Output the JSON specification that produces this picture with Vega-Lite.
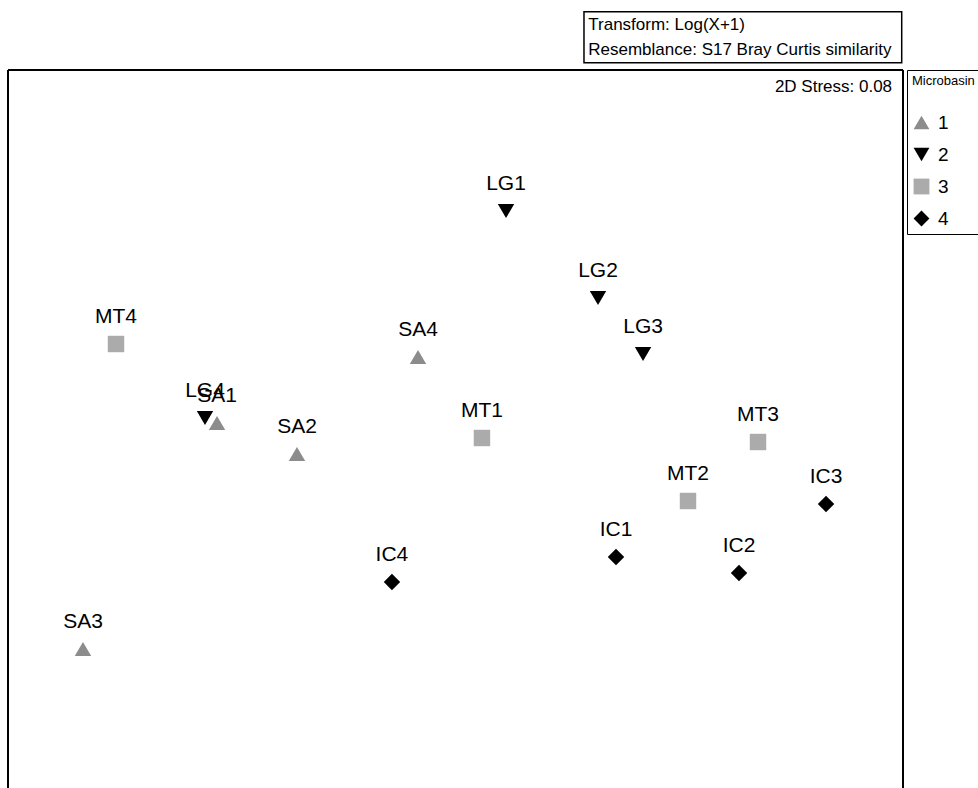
{
  "$schema": "https://vega.github.io/schema/vega-lite/v6.json",
  "width": 895,
  "height": 718,
  "autosize": "none",
  "padding": {"left": 8, "top": 70, "right": 75, "bottom": 0},
  "background": "white",
  "config": {"view": {"stroke": null}, "font": "Liberation Sans"},
  "data": {"values": [
    {"site": "LG1", "Microbasin": "2", "x": 0.508, "y": 2.29},
    {"site": "LG2", "Microbasin": "2", "x": 1.433, "y": 1.42},
    {"site": "LG3", "Microbasin": "2", "x": 1.886, "y": 0.86},
    {"site": "LG4", "Microbasin": "2", "x": -2.519, "y": 0.22},
    {"site": "SA1", "Microbasin": "1", "x": -2.398, "y": 0.17},
    {"site": "SA2", "Microbasin": "1", "x": -1.594, "y": -0.14},
    {"site": "SA3", "Microbasin": "1", "x": -3.746, "y": -2.09},
    {"site": "SA4", "Microbasin": "1", "x": -0.377, "y": 0.83},
    {"site": "MT1", "Microbasin": "3", "x": 0.266, "y": 0.02},
    {"site": "MT2", "Microbasin": "3", "x": 2.338, "y": -0.61},
    {"site": "MT3", "Microbasin": "3", "x": 3.042, "y": -0.02},
    {"site": "MT4", "Microbasin": "3", "x": -3.414, "y": 0.96},
    {"site": "IC1", "Microbasin": "4", "x": 1.614, "y": -1.17},
    {"site": "IC2", "Microbasin": "4", "x": 2.851, "y": -1.33},
    {"site": "IC3", "Microbasin": "4", "x": 3.726, "y": -0.64},
    {"site": "IC4", "Microbasin": "4", "x": -0.639, "y": -1.42}
  ]},
  "layer": [
    {
      "data": {"values": [{}]},
      "mark": {"type": "rule", "color": "black", "strokeWidth": 2},
      "encoding": {
        "x": {"datum": -4.5, "type": "quantitative", "scale": {"domain": [-4.5, 4.5], "nice": false, "zero": false}, "axis": null},
        "y": {"datum": -3.48, "type": "quantitative", "scale": {"domain": [-3.48, 3.7], "nice": false, "zero": false}, "axis": null},
        "y2": {"datum": 3.7}
      }
    },
    {
      "data": {"values": [{}]},
      "mark": {"type": "rule", "color": "black", "strokeWidth": 2},
      "encoding": {
        "x": {"datum": 4.5, "type": "quantitative"},
        "y": {"datum": -3.48, "type": "quantitative"},
        "y2": {"datum": 3.7}
      }
    },
    {
      "data": {"values": [{}]},
      "mark": {"type": "rule", "color": "black", "strokeWidth": 2},
      "encoding": {
        "x": {"datum": -4.5, "type": "quantitative"},
        "x2": {"datum": 4.5},
        "y": {"datum": 3.7, "type": "quantitative"}
      }
    },
    {
      "data": {"values": [{}]},
      "mark": {"type": "rect", "fill": "white", "stroke": "black", "strokeWidth": 1.5},
      "encoding": {
        "x": {"datum": 1.292, "type": "quantitative"},
        "x2": {"datum": 4.487},
        "y": {"datum": 4.283, "type": "quantitative"},
        "y2": {"datum": 3.773}
      }
    },
    {
      "data": {"values": [{}]},
      "mark": {"type": "text", "align": "left", "baseline": "middle", "fontSize": 17, "color": "black"},
      "encoding": {
        "x": {"datum": 1.335, "type": "quantitative"},
        "y": {"datum": 4.15, "type": "quantitative"},
        "text": {"value": "Transform: Log(X+1)"}
      }
    },
    {
      "data": {"values": [{}]},
      "mark": {"type": "text", "align": "left", "baseline": "middle", "fontSize": 17, "color": "black"},
      "encoding": {
        "x": {"datum": 1.335, "type": "quantitative"},
        "y": {"datum": 3.9, "type": "quantitative"},
        "text": {"value": "Resemblance: S17 Bray Curtis similarity"}
      }
    },
    {
      "data": {"values": [{}]},
      "mark": {"type": "text", "align": "right", "baseline": "middle", "fontSize": 17, "color": "black"},
      "encoding": {
        "x": {"datum": 4.39, "type": "quantitative"},
        "y": {"datum": 3.53, "type": "quantitative"},
        "text": {"value": "2D Stress: 0.08"}
      }
    },
    {
      "mark": {"type": "point", "filled": true, "size": 270, "opacity": 1},
      "encoding": {
        "x": {"field": "x", "type": "quantitative"},
        "y": {"field": "y", "type": "quantitative"},
        "color": {
          "field": "Microbasin", "type": "nominal",
          "scale": {"domain": ["1", "2", "3", "4"], "range": ["#8c8c8c", "#000000", "#ababab", "#000000"]},
          "legend": {"title": "Microbasin", "orient": "none", "legendX": 899, "legendY": 0, "strokeColor": "black", "padding": 5,
            "titleFont": "Liberation Sans", "titleFontSize": 13, "titleFontWeight": "normal", "titleColor": "black", "titlePadding": 25,
            "labelFontSize": 19, "labelColor": "black", "labelFont": "Liberation Sans", "symbolSize": 250, "rowPadding": 12, "labelOffset": 7, "symbolStrokeWidth": 0}
        },
        "shape": {
          "field": "Microbasin", "type": "nominal",
          "scale": {"domain": ["1", "2", "3", "4"], "range": ["triangle-up", "triangle-down", "square", "diamond"]},
          "legend": {"title": "Microbasin", "orient": "none", "legendX": 899, "legendY": 0, "strokeColor": "black", "padding": 5,
            "titleFont": "Liberation Sans", "titleFontSize": 13, "titleFontWeight": "normal", "titleColor": "black", "titlePadding": 25,
            "labelFontSize": 19, "labelColor": "black", "labelFont": "Liberation Sans", "symbolSize": 250, "rowPadding": 12, "labelOffset": 7, "symbolStrokeWidth": 0}
        }
      }
    },
    {
      "mark": {"type": "text", "align": "center", "baseline": "alphabetic", "dy": -21, "fontSize": 21, "color": "black"},
      "encoding": {
        "x": {"field": "x", "type": "quantitative"},
        "y": {"field": "y", "type": "quantitative"},
        "text": {"field": "site"}
      }
    }
  ]
}
